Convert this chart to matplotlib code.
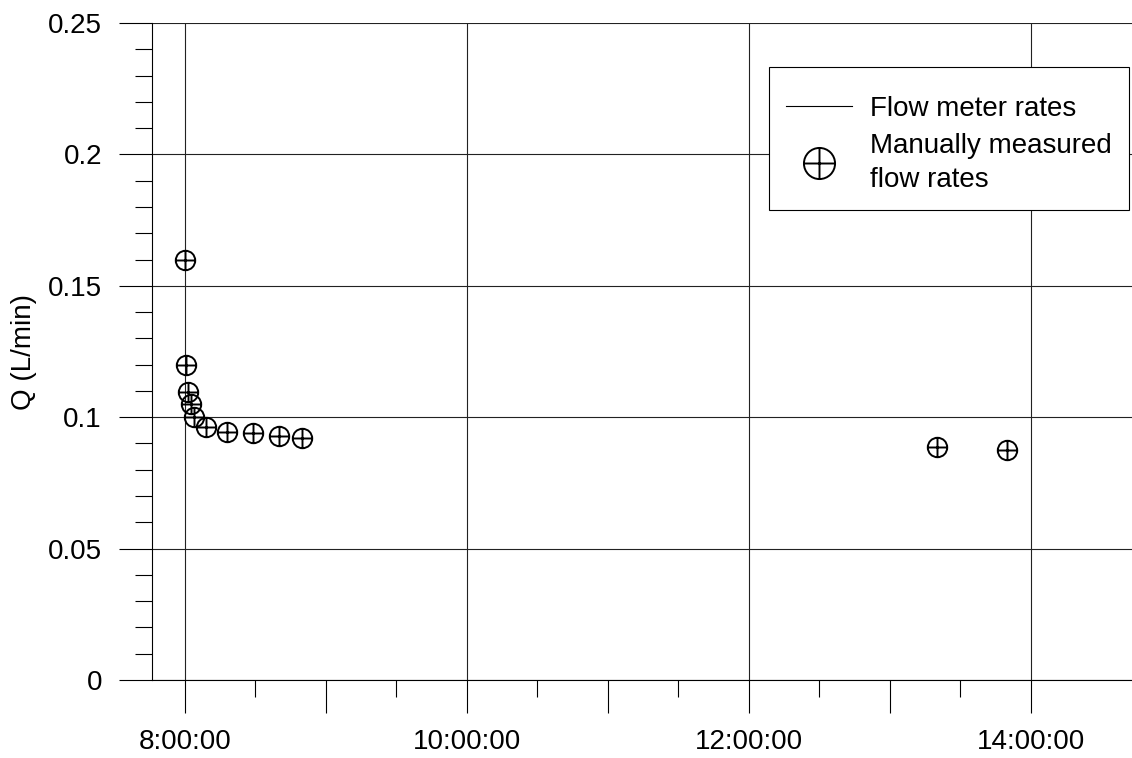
import numpy as np
import pandas as pd
import matplotlib
matplotlib.use("Agg")
import matplotlib.pyplot as plt
import matplotlib.dates as mdates
from matplotlib.path import Path
from matplotlib.ticker import MultipleLocator, FixedLocator, FuncFormatter

plt.rcParams['font.family'] = ['Liberation Sans', 'DejaVu Sans']

# manually measured flow rates
measure_times = ['08:00:00', '08:00:30', '08:01:30', '08:02:30', '08:03:45', '08:09:00',
                 '08:18:00', '08:29:00', '08:40:00', '08:50:00', '13:20:00', '13:50:00']
measure_q = [0.160, 0.120, 0.1094, 0.1052, 0.0999, 0.0961,
             0.0942, 0.0938, 0.0929, 0.0919, 0.0885, 0.0874]

x_start = '07:46:00'
x_end = '14:43:00'
hour_ticks = ['08:00', '09:00', '10:00', '11:00', '12:00', '13:00', '14:00']
half_ticks = ['08:30', '09:30', '10:30', '11:30', '12:30', '13:30']
y_min, y_max = 0, 0.25

day = '2020-01-01 '
t = pd.to_datetime([day + s for s in measure_times])

# circle with a cross inside
circle_plus = Path.make_compound_path(
    Path.unit_circle(),
    Path([[-1, 0], [1, 0]], [Path.MOVETO, Path.LINETO]),
    Path([[0, -1], [0, 1]], [Path.MOVETO, Path.LINETO]),
)

fig = plt.figure(figsize=(11.32, 7.58), dpi=100)
ax = fig.add_axes([152 / 1132, 78 / 758, 1 - 152 / 1132, 657 / 758])

ax.plot([], [], color='black', lw=0.8, label='Flow meter rates')
ax.plot(t, measure_q, linestyle='none', marker=circle_plus, markersize=14,
        markerfacecolor='none', markeredgecolor='black', markeredgewidth=1.4,
        label='Manually measured\nflow rates')

ax.set_xlim(pd.Timestamp(day + x_start), pd.Timestamp(day + x_end))
ax.set_ylim(y_min, y_max)

# x ticks: long every hour, short every half hour, labels/grid every 2 hours
major_x = mdates.date2num(pd.to_datetime([day + s for s in hour_ticks]))
minor_x = mdates.date2num(pd.to_datetime([day + s for s in half_ticks]))
ax.xaxis.set_major_locator(FixedLocator(major_x))
ax.xaxis.set_minor_locator(FixedLocator(minor_x))


def fmt_time(v, pos):
    d = mdates.num2date(v)
    if d.hour % 2 == 0:
        return f"{d.hour}:{d.minute:02d}:{d.second:02d}"
    return ''


ax.xaxis.set_major_formatter(FuncFormatter(fmt_time))
for v in major_x:
    if mdates.num2date(v).hour % 2 == 0:
        ax.axvline(v, color='#222222', lw=0.8, zorder=0)

ax.yaxis.set_major_locator(MultipleLocator(0.05))
ax.yaxis.set_minor_locator(MultipleLocator(0.01))
ax.yaxis.set_major_formatter(FuncFormatter(lambda v, p: '0' if v == 0 else f"{v:g}"))
ax.grid(True, axis='y', which='major', color='#222222', lw=0.8, zorder=0)

ax.tick_params(axis='both', which='major', direction='out', length=24, width=0.8,
               labelsize=20)
ax.tick_params(axis='both', which='minor', direction='out', length=12, width=0.8)
ax.tick_params(axis='x', which='major', pad=11)
ax.tick_params(axis='y', which='major', pad=12)

for s in ['right', 'top']:
    ax.spines[s].set_visible(False)
for s in ['left', 'bottom']:
    ax.spines[s].set_linewidth(0.8)

ax.set_ylabel('Q (L/min)', fontsize=20, labelpad=8)

# tiny blank title just to add some room at the top of the box
leg = ax.legend(loc='upper left', bbox_to_anchor=((769 - 152) / 980, (680 - 67) / 657),
                borderaxespad=0, fontsize=20, frameon=True, fancybox=False,
                edgecolor='black', framealpha=1, markerscale=1.6, handlelength=2.4,
                handletextpad=0.65, borderpad=0.6, labelspacing=0.4,
                title=' ', title_fontsize=1)
leg.get_frame().set_linewidth(0.8)
for txt in leg.get_texts():
    txt.set_linespacing(1.4)

fig.savefig('out.png', dpi=100)
